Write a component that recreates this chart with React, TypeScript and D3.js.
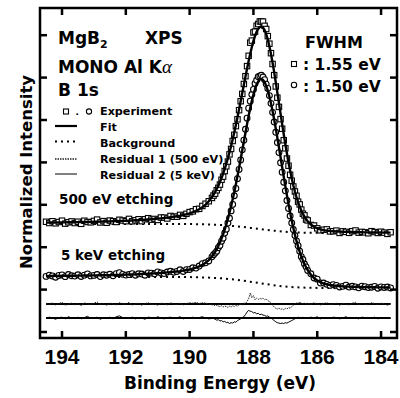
import React from 'react';
import * as d3 from 'd3';

// Binding energy grid (eV)
const energies = [
  194.5,194.4,194.3,194.2,194.1,194.0,193.9,193.8,193.7,193.6,
  193.5,193.4,193.3,193.2,193.1,193.0,192.9,192.8,192.7,192.6,
  192.5,192.4,192.3,192.2,192.1,192.0,191.9,191.8,191.7,191.6,
  191.5,191.4,191.3,191.2,191.1,191.0,190.9,190.8,190.7,190.6,
  190.5,190.4,190.3,190.2,190.1,190.0,189.9,189.8,189.7,189.6,
  189.5,189.4,189.3,
  189.25,189.2,189.15,189.1,189.05,189.0,188.95,188.9,188.85,188.8,
  188.75,188.7,188.65,188.6,188.55,188.5,188.45,188.4,188.35,188.3,
  188.25,188.2,188.15,188.1,188.05,188.0,187.95,187.9,187.85,187.8,
  187.75,187.7,187.65,187.6,187.55,187.5,187.45,187.4,187.35,187.3,
  187.25,187.2,187.15,187.1,187.05,187.0,186.95,186.9,186.85,186.8,
  186.75,186.7,186.65,186.6,186.55,186.5,186.45,186.4,186.35,
  186.3,186.2,186.1,186.0,185.9,185.8,185.7,185.6,185.5,185.4,
  185.3,185.2,185.1,185.0,184.9,184.8,184.7,184.6,184.5,184.4,
  184.3,184.2,184.1,184.0,183.9,183.8,183.7,
];

// Fit curve, 500 eV etching
const fit500 = [
  2.580,2.581,2.582,2.583,2.584,2.585,2.586,2.587,2.588,2.590,
  2.591,2.592,2.594,2.595,2.597,2.599,2.601,2.603,2.605,2.607,
  2.609,2.612,2.615,2.617,2.620,2.624,2.627,2.631,2.635,2.639,
  2.644,2.649,2.654,2.660,2.666,2.673,2.680,2.688,2.697,2.707,
  2.718,2.730,2.742,2.759,2.777,2.798,2.825,2.856,2.895,2.943,
  3.005,3.084,3.182,
  3.238,3.302,3.373,3.450,3.537,3.630,3.734,3.846,3.968,4.100,
  4.239,4.388,4.545,4.711,4.885,5.066,5.252,5.443,5.636,5.830,
  6.023,6.211,6.394,6.564,6.723,6.865,6.984,7.082,7.153,7.194,
  7.205,7.181,7.121,7.026,6.898,6.740,6.556,6.351,6.128,5.891,
  5.646,5.399,5.150,4.904,4.663,4.432,4.211,4.002,3.808,3.627,
  3.462,3.314,3.182,3.064,2.959,2.867,2.790,2.721,2.662,
  2.612,2.534,2.481,2.445,2.419,2.403,2.390,2.382,2.376,2.371,
  2.367,2.364,2.362,2.359,2.357,2.354,2.353,2.351,2.350,2.349,
  2.348,2.347,2.346,2.345,2.344,2.344,2.343,
];

// Fit curve, 5 keV etching
const fit5k = [
  1.321,1.322,1.322,1.323,1.324,1.325,1.325,1.326,1.327,1.328,
  1.329,1.330,1.331,1.332,1.333,1.335,1.336,1.337,1.339,1.340,
  1.342,1.344,1.346,1.348,1.350,1.352,1.355,1.357,1.360,1.363,
  1.367,1.370,1.374,1.378,1.383,1.388,1.393,1.399,1.405,1.412,
  1.420,1.428,1.437,1.448,1.461,1.475,1.494,1.517,1.546,1.583,
  1.632,1.696,1.782,
  1.834,1.891,1.955,2.028,2.110,2.201,2.301,2.414,2.535,2.669,
  2.813,2.966,3.130,3.303,3.486,3.677,3.875,4.078,4.286,4.494,
  4.701,4.903,5.098,5.283,5.452,5.602,5.733,5.836,5.911,5.956,
  5.966,5.943,5.892,5.807,5.694,5.556,5.393,5.211,5.012,4.800,
  4.578,4.351,4.121,3.890,3.662,3.439,3.222,3.014,2.816,2.630,
  2.456,2.296,2.149,2.015,1.895,1.786,1.689,1.604,1.527,
  1.461,1.353,1.273,1.216,1.175,1.144,1.124,1.109,1.098,1.090,
  1.083,1.077,1.074,1.070,1.068,1.064,1.062,1.060,1.058,1.057,
  1.055,1.054,1.053,1.052,1.051,1.050,1.049,
];

// Residual 1 (500 eV) = experiment - fit
const resid500 = [
  0.02,-0.01,0.03,-0.02,0.01,0.04,-0.03,0.00,0.02,-0.02,
  0.01,-0.04,0.03,0.00,-0.01,0.02,0.05,-0.02,0.01,-0.03,
  0.02,0.00,-0.02,0.03,0.01,-0.01,0.04,-0.02,0.00,0.02,
  -0.03,0.01,0.03,-0.01,0.00,-0.03,0.02,0.01,-0.02,0.03,
  0.00,-0.01,0.02,-0.02,0.01,0.03,0.02,0.04,0.01,0.03,
  0.02,0.00,-0.02,
  -0.02,-0.04,-0.03,-0.05,-0.06,-0.04,-0.07,-0.05,-0.06,-0.08,
  -0.05,-0.07,-0.04,-0.06,-0.03,-0.05,-0.02,0.00,-0.02,0.02,
  0.01,0.06,0.12,0.26,0.15,0.20,0.10,0.14,0.11,0.13,
  0.12,0.14,0.10,0.12,0.08,0.06,0.02,-0.03,-0.07,-0.10,
  -0.12,-0.09,-0.13,-0.11,-0.14,-0.10,-0.12,-0.08,-0.10,-0.06,
  -0.03,0.00,0.03,0.01,0.05,0.02,0.00,0.03,-0.01,
  0.02,-0.01,0.03,0.00,-0.02,0.01,0.03,-0.01,0.00,0.02,
  -0.03,0.01,0.00,-0.02,0.02,0.04,-0.01,0.01,0.00,-0.02,
  0.03,0.01,-0.01,0.02,0.00,-0.03,0.01,
];

// Residual 2 (5 keV) = experiment - fit
const resid5k = [
  -0.01,0.02,0.00,-0.03,0.01,0.02,-0.02,0.03,0.00,-0.01,
  0.02,-0.02,0.01,0.04,-0.01,0.00,0.02,-0.03,0.01,0.00,
  0.02,-0.02,0.03,0.05,0.01,-0.01,0.00,0.02,-0.02,0.01,
  0.00,-0.03,0.02,0.01,-0.01,0.03,0.00,-0.02,0.01,0.02,
  -0.01,0.00,0.03,-0.02,0.01,0.00,0.02,-0.01,0.01,0.03,
  0.00,-0.02,-0.01,
  -0.01,-0.03,-0.05,-0.04,-0.07,-0.06,-0.09,-0.08,-0.11,-0.10,
  -0.13,-0.11,-0.12,-0.09,-0.10,-0.06,-0.04,-0.02,0.01,0.03,
  0.08,0.14,0.18,0.16,0.15,0.12,0.13,0.10,0.11,0.08,
  0.09,0.07,0.06,0.04,0.05,0.02,0.00,-0.03,-0.06,-0.09,
  -0.11,-0.12,-0.13,-0.12,-0.13,-0.11,-0.12,-0.10,-0.08,-0.06,
  -0.04,-0.02,0.00,0.02,0.01,-0.01,0.02,0.00,0.01,
  -0.01,0.02,0.00,0.03,-0.02,0.01,0.00,-0.01,0.02,0.01,
  -0.02,0.00,0.03,-0.01,0.01,0.00,-0.02,0.02,0.01,-0.01,
  0.00,0.02,-0.02,0.01,0.00,0.01,-0.01,
];

// Shirley backgrounds
const bgEnergies = [194.5,193,192,191,190.5,190,189.5,189,188.5,188,187.75,187.5,187,186.5,186,185.5,185,184.5,183.7];
const bg500 = [2.550,2.550,2.550,2.550,2.550,2.546,2.538,2.521,2.491,2.448,2.425,2.402,2.364,2.345,2.338,2.334,2.331,2.330,2.330];
const bg5k = [1.300,1.300,1.300,1.300,1.300,1.295,1.285,1.265,1.227,1.174,1.146,1.118,1.072,1.049,1.040,1.035,1.031,1.030,1.030];

const xTicks = [194, 192, 190, 188, 186, 184];
const yTicks = [0, 1, 2, 3, 4, 5, 6, 7];
const resid500Offset = 0.66;
const resid5kOffset = 0.33;

const FONT = '"DejaVu Sans", sans-serif';

export default function App() {
  const left = 40, right = 397, top = 8, bottom = 338;
  const x = d3.scaleLinear().domain([194.69, 183.5]).range([left, right]);
  const y = d3.scaleLinear().domain([0, 7]).range([332, 35.2]);

  const pts = (ys: number[], xs: number[] = energies) => xs.map((e, i) => [e, ys[i]] as [number, number]);
  const line = d3.line<[number, number]>().x(d => x(d[0])).y(d => y(d[1]));
  const smooth = d3.line<[number, number]>().x(d => x(d[0])).y(d => y(d[1])).curve(d3.curveMonotoneX);

  const exp500 = energies.map((e, i) => fit500[i] + resid500[i]);
  const exp5k = energies.map((e, i) => fit5k[i] + resid5k[i]);
  const r500 = resid500.map(v => v + resid500Offset);
  const r5k = resid5k.map(v => v + resid5kOffset);
  const e0 = energies[0], e1 = energies[energies.length - 1];

  return (
    <div style={{ position: 'absolute', left: 0, top: 0 }}>
      <svg width={400} height={398} style={{ display: 'block', background: '#fff' }} fontFamily={FONT}>
        {/* backgrounds */}
        <path d={smooth(pts(bg500, bgEnergies)) || ''} fill="none" stroke="#000" strokeWidth={2} strokeDasharray="2,4" />
        <path d={smooth(pts(bg5k, bgEnergies)) || ''} fill="none" stroke="#000" strokeWidth={2} strokeDasharray="2,4" />

        {/* experiment markers */}
        {energies.map((e, i) => (
          <rect key={'s' + i} x={x(e) - 2.7} y={y(exp500[i]) - 2.7} width={5.4} height={5.4}
            fill="#fff" stroke="#000" strokeWidth={1.1} />
        ))}
        {energies.map((e, i) => (
          <circle key={'c' + i} cx={x(e)} cy={y(exp5k[i])} r={2.9}
            fill="#fff" stroke="#000" strokeWidth={1.1} />
        ))}

        {/* fits */}
        <path d={line(pts(fit500)) || ''} fill="none" stroke="#000" strokeWidth={2.4} />
        <path d={line(pts(fit5k)) || ''} fill="none" stroke="#000" strokeWidth={2.4} />

        {/* residuals */}
        <line x1={x(e0)} x2={x(e1)} y1={y(resid500Offset)} y2={y(resid500Offset)} stroke="#000" strokeWidth={2} />
        <line x1={x(e0)} x2={x(e1)} y1={y(resid5kOffset)} y2={y(resid5kOffset)} stroke="#000" strokeWidth={2} />
        <path d={line(pts(r500)) || ''} fill="none" stroke="#222" strokeWidth={1} strokeDasharray="1.5,1" />
        <path d={line(pts(r5k)) || ''} fill="none" stroke="#000" strokeWidth={1} />

        {/* frame */}
        <rect x={left} y={top} width={right - left} height={bottom - top} fill="none" stroke="#000" strokeWidth={2.5} />
        {xTicks.map(t => (
          <g key={'xt' + t}>
            <line x1={x(t)} x2={x(t)} y1={bottom} y2={bottom - 7} stroke="#000" strokeWidth={2.5} />
            <line x1={x(t)} x2={x(t)} y1={top} y2={top + 7} stroke="#000" strokeWidth={2.5} />
            <text x={x(t)} y={364} textAnchor="middle" fontSize={21} fontWeight="bold"
              fontFamily='"Liberation Sans", Arial, sans-serif'>{t}</text>
          </g>
        ))}
        {yTicks.map(t => (
          <g key={'yt' + t}>
            <line x1={left} x2={left + 7} y1={y(t)} y2={y(t)} stroke="#000" strokeWidth={2.5} />
            <line x1={right} x2={right - 7} y1={y(t)} y2={y(t)} stroke="#000" strokeWidth={2.5} />
          </g>
        ))}

        {/* axis titles */}
        <text x={220} y={389} textAnchor="middle" fontSize={17} fontWeight="bold">Binding Energy (eV)</text>
        <text transform="translate(32,172) rotate(-90)" textAnchor="middle" fontSize={16.5} fontWeight="bold">Normalized Intensity</text>

        {/* annotations */}
        <g fontWeight="bold" fontSize={17}>
          <text x={58} y={44}>MgB<tspan fontSize={11} dy={4}>2</tspan></text>
          <text x={145} y={44}>XPS</text>
          <text x={58} y={73}>MONO Al K<tspan fontFamily='"Liberation Serif", serif' fontWeight="normal" fontStyle="italic" fontSize={19}>α</tspan></text>
          <text x={58} y={96}>B 1s</text>
        </g>
        <g fontWeight="bold" fontSize={16}>
          <text x={305} y={48}>FWHM</text>
          <text x={303} y={70} fontSize={15.5}>: 1.55 eV</text>
          <text x={303} y={92} fontSize={15.5}>: 1.50 eV</text>
        </g>
        <rect x={291.5} y={61.5} width={5} height={5} fill="#fff" stroke="#000" strokeWidth={1.1} />
        <circle cx={294} cy={85} r={2.7} fill="#fff" stroke="#000" strokeWidth={1.1} />

        {/* legend */}
        <g fontWeight="bold" fontSize={11.2}>
          <rect x={63.5} y={109} width={5} height={5} fill="#fff" stroke="#000" strokeWidth={1.1} />
          <text x={75.5} y={114.5} fontSize={9}>.</text>
          <circle cx={89} cy={111.5} r={2.6} fill="#fff" stroke="#000" strokeWidth={1.1} />
          <text x={100} y={114.5}>Experiment</text>
          <line x1={55} x2={77} y1={126} y2={126} stroke="#000" strokeWidth={2.2} />
          <text x={100} y={130.5}>Fit</text>
          <line x1={55} x2={77} y1={141.5} y2={141.5} stroke="#000" strokeWidth={2} strokeDasharray="2,4" />
          <text x={100} y={146.5}>Background</text>
          <line x1={55} x2={77} y1={159} y2={159} stroke="#222" strokeWidth={1.3} strokeDasharray="1.5,1" />
          <text x={100} y={163}>Residual 1 (500 eV)</text>
          <line x1={55} x2={77} y1={174} y2={174} stroke="#000" strokeWidth={1} />
          <text x={100} y={178.5}>Residual 2 (5 keV)</text>
        </g>

        <g fontWeight="bold" fontSize={13.5}>
          <text x={59} y={204}>500 eV etching</text>
          <text x={61} y={260}>5 keV etching</text>
        </g>
      </svg>
    </div>
  );
}
